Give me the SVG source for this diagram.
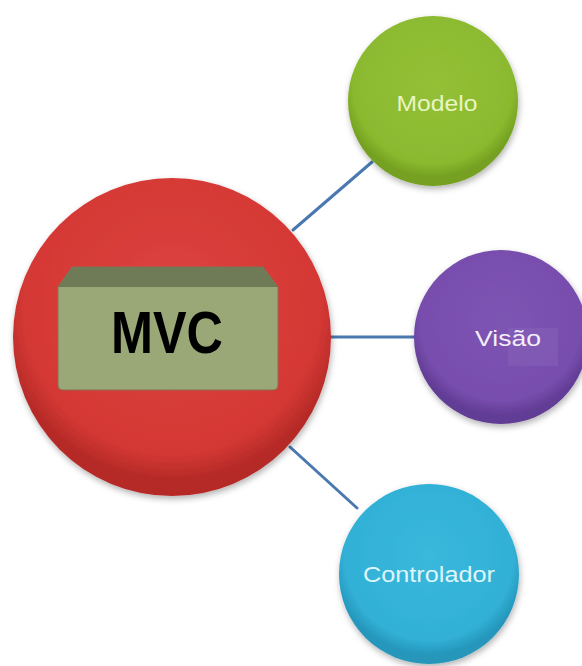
<svg xmlns="http://www.w3.org/2000/svg" width="582" height="666" viewBox="0 0 582 666">
<style>
.lbl{font-family:"Liberation Sans",Arial,sans-serif;font-size:22px}
.conn{stroke:#4a78b0;stroke-width:3;stroke-linecap:round}
</style>
<defs>
<filter id="sh" x="-20%" y="-20%" width="140%" height="140%">
<feDropShadow dx="1" dy="3" stdDeviation="3" flood-color="#000" flood-opacity="0.3"/>
</filter>
<radialGradient id="gRed" cx="50%" cy="40%" r="55%">
<stop offset="0" stop-color="#dd4340"/><stop offset="0.85" stop-color="#d43834"/><stop offset="1" stop-color="#b52a27"/>
</radialGradient>
<radialGradient id="gGreen" cx="50%" cy="40%" r="55%">
<stop offset="0" stop-color="#93c036"/><stop offset="0.85" stop-color="#8bb92f"/><stop offset="1" stop-color="#74a020"/>
</radialGradient>
<radialGradient id="gPurple" cx="50%" cy="40%" r="55%">
<stop offset="0" stop-color="#7d54b3"/><stop offset="0.85" stop-color="#774dad"/><stop offset="1" stop-color="#623c95"/>
</radialGradient>
<radialGradient id="gBlue" cx="50%" cy="40%" r="55%">
<stop offset="0" stop-color="#3ab8dc"/><stop offset="0.85" stop-color="#32b0d6"/><stop offset="1" stop-color="#2596bb"/>
</radialGradient>
</defs>
<rect width="582" height="666" fill="#ffffff"/>
<g id="connectors">
<line class="conn" x1="293" y1="230" x2="372" y2="162"/>
<line class="conn" x1="330" y1="337" x2="417" y2="337"/>
<line class="conn" x1="290" y1="447" x2="357" y2="508"/>
</g>
<g id="mvc">
<circle cx="172" cy="337" r="159" fill="url(#gRed)" filter="url(#sh)"/>
<path d="M72 267 L263 267 L278 287 L278 385 Q278 390 273 390 L63 390 Q58 390 58 385 L58 287 Z" fill="#9aa878" stroke="#8a6e50" stroke-width="1"/>
<path d="M72 267 L263 267 L278 287 L58 287 Z" fill="#6f7b56"/>
<text x="167" y="353" text-anchor="middle" font-family="'Liberation Sans',Arial,sans-serif" font-weight="bold" font-size="60" textLength="112" lengthAdjust="spacingAndGlyphs" fill="#000">MVC</text>
</g>
<g id="modelo">
<circle cx="433" cy="101" r="85" fill="url(#gGreen)" filter="url(#sh)"/>
<text class="lbl" x="437" y="111" text-anchor="middle" fill="#e8f5c4" textLength="81" lengthAdjust="spacingAndGlyphs">Modelo</text>
</g>
<g id="visao">
<circle cx="501" cy="337" r="87" fill="url(#gPurple)" filter="url(#sh)"/>
<rect x="508" y="328" width="50" height="38" fill="#8560b8" opacity="0.6"/>
<text class="lbl" x="475" y="346" font-size="19" fill="#f3eefa" textLength="66" lengthAdjust="spacingAndGlyphs">Visão</text>
</g>
<g id="controlador">
<circle cx="429" cy="574" r="90" fill="url(#gBlue)" filter="url(#sh)"/>
<text class="lbl" x="429" y="582" text-anchor="middle" fill="#dff6fb" textLength="132" lengthAdjust="spacingAndGlyphs">Controlador</text>
</g>
</svg>
